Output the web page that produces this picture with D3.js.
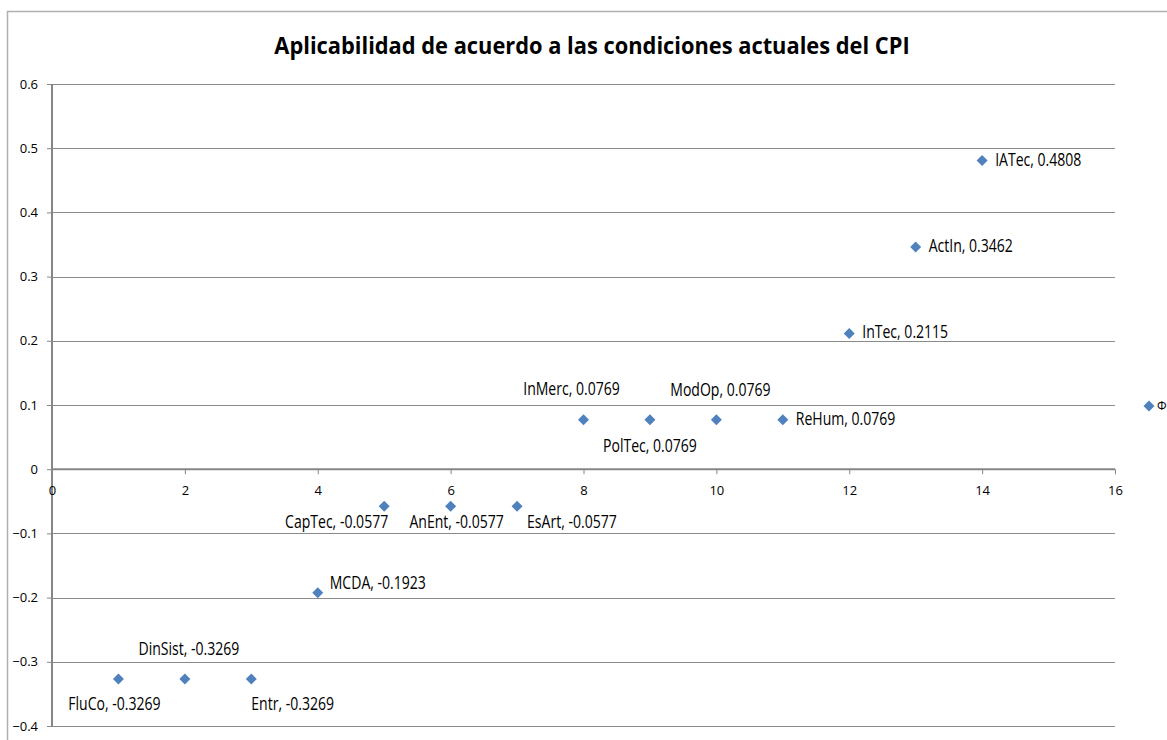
<!DOCTYPE html>
<html>
<head>
<meta charset="utf-8">
<script src="https://cdn.jsdelivr.net/npm/d3@7"></script>
<style>
  html, body { margin: 0; padding: 0; background: #fff; }
  svg { display: block; }
  text { font-family: "Open Sans", Arial, sans-serif; fill: #000; }
</style>
</head>
<body>
<svg id="chart" width="1167" height="740"></svg>
<script>
// Series values
const names  = ["FluCo", "DinSist", "Entr", "MCDA", "CapTec", "AnEnt", "EsArt",
                "InMerc", "PolTec", "ModOp", "ReHum", "InTec", "ActIn", "IATec"];
const xVals  = [1, 2, 3, 4, 5, 6, 7, 8, 9, 10, 11, 12, 13, 14];
const yVals  = [-0.3269, -0.3269, -0.3269, -0.1923, -0.0577, -0.0577, -0.0577,
                0.0769, 0.0769, 0.0769, 0.0769, 0.2115, 0.3462, 0.4808];
const xTicks = [0, 2, 4, 6, 8, 10, 12, 14, 16];
const yTicks = [-0.4, -0.3, -0.2, -0.1, 0, 0.1, 0.2, 0.3, 0.4, 0.5, 0.6];
const seriesName = "Φ";
const title = "Aplicabilidad de acuerdo a las condiciones actuales del CPI";

// Where each data label sits relative to its marker
const labelPlace = ["belowLeft", "above", "belowStart", "rightHigh", "belowEnd", "belowNear", "belowAfter",
                    "aboveLeft", "belowWide", "above", "right", "right", "right", "right"];

const color = "#4F81BD";
const svg = d3.select("#chart");

// outer chart frame (open on the right, runs past the window edge)
svg.append("rect").attr("x", 7.5).attr("y", 11.5).attr("width", 1180).attr("height", 740)
  .attr("fill", "none").attr("stroke", "#b0b0b0").attr("stroke-width", 1.5);

const x = d3.scaleLinear().domain([0, 16]).range([52, 1115]);
const y = d3.scaleLinear().domain([-0.4, 0.6]).range([726, 84]);

// horizontal gridlines
svg.append("g").selectAll("line").data(yTicks.filter(t => t !== 0)).join("line")
  .attr("x1", x(0)).attr("x2", x(16))
  .attr("y1", d => Math.round(y(d)) + 0.5).attr("y2", d => Math.round(y(d)) + 0.5)
  .attr("stroke", "#8a8a8a").attr("stroke-width", 1.2);

// y axis
const yAxis = svg.append("g").attr("transform", `translate(${x(0)},0)`)
  .call(d3.axisLeft(y).tickValues(yTicks).tickSize(5).tickPadding(9)
    .tickFormat(d => d3.format("")(+d.toFixed(1))));
yAxis.select(".domain").attr("stroke", "#868686").attr("stroke-width", 2).attr("d", `M0,${y(0.6)}V${y(-0.4)}`);
yAxis.selectAll(".tick line").attr("stroke", "#868686");
yAxis.selectAll("text").attr("font-size", 13).style("font-family", null);

// x axis crossing at y = 0
const xAxis = svg.append("g").attr("transform", `translate(0,${y(0)})`)
  .call(d3.axisBottom(x).tickValues(xTicks).tickSize(5).tickPadding(12).tickFormat(d3.format("d")));
xAxis.select(".domain").attr("stroke", "#868686").attr("stroke-width", 2).attr("d", `M${x(0)},0H${x(16)}`);
xAxis.selectAll(".tick line").attr("stroke", "#868686");
xAxis.selectAll("text").attr("font-size", 13).style("font-family", null);

// markers (rotated squares)
const pts = names.map((n, i) => ({ name: n, x: xVals[i], y: yVals[i], place: labelPlace[i] }));
const marker = d3.symbol().type(d3.symbolSquare).size(60);
svg.append("g").selectAll("path").data(pts).join("path")
  .attr("d", marker)
  .attr("transform", d => `translate(${x(d.x)},${y(d.y)}) rotate(45)`)
  .attr("fill", color);

// data labels, set in a narrow face
const offsets = {
  belowLeft:  { dx: -4,  dy: 31,  anchor: "middle" },
  belowStart: { dx: 0,   dy: 31,  anchor: "start" },
  above:      { dx: 4,   dy: -24, anchor: "middle" },
  aboveLeft:  { dx: -12, dy: -25, anchor: "middle" },
  rightHigh:  { dx: 12,  dy: -4,  anchor: "start" },
  belowEnd:   { dx: 4,   dy: 22,  anchor: "end" },
  belowNear:  { dx: 6,   dy: 22,  anchor: "middle" },
  belowAfter: { dx: 10,  dy: 22,  anchor: "start" },
  belowWide:  { dx: 0,   dy: 32,  anchor: "middle" },
  right:      { dx: 13,  dy: 5,   anchor: "start" }
};
svg.append("g").selectAll("text").data(pts).join("text")
  .attr("transform", d => `translate(${x(d.x) + offsets[d.place].dx},${y(d.y) + offsets[d.place].dy}) scale(0.78,1)`)
  .attr("text-anchor", d => offsets[d.place].anchor)
  .attr("font-size", 18)
  .text(d => `${d.name}, ${d.y}`);

// title
svg.append("text").attr("transform", "translate(592,54) scale(0.91,1)").attr("text-anchor", "middle")
  .attr("font-size", 24).attr("font-weight", "bold").text(title);

// legend
svg.append("path").attr("d", marker)
  .attr("transform", "translate(1149,406) rotate(45)").attr("fill", color);
svg.append("text").attr("x", 1157).attr("y", 410).attr("font-size", 12).text(seriesName);
</script>
</body>
</html>
